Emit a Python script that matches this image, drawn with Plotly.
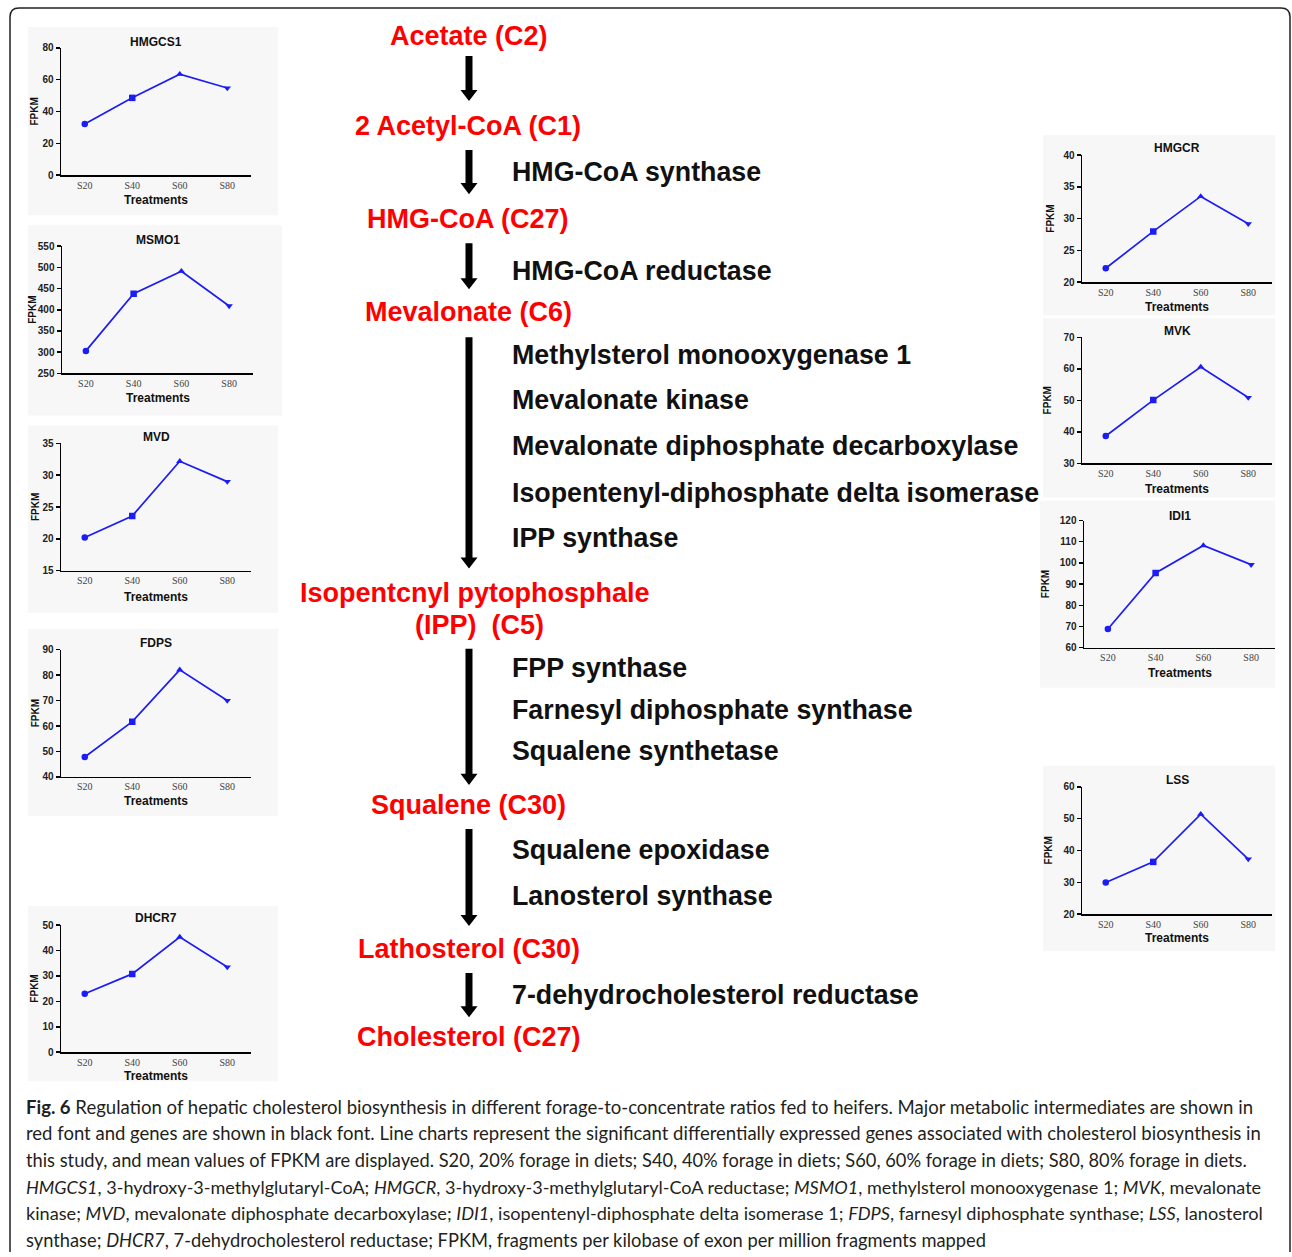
import plotly.graph_objects as go

W, H = 1292, 1257

# ---------------- data ----------------
treatments = ["S20", "S40", "S60", "S80"]
hmgcs1 = [32.2, 48.6, 63.5, 54.8]
msmo1 = [303, 438, 491, 409]
mvd = [20.2, 23.6, 32.2, 29.0]
fdps = [47.8, 61.7, 82.1, 70.0]
dhcr7 = [23.0, 30.8, 45.3, 33.5]
hmgcr = [22.2, 28.0, 33.5, 29.2]
mvk = [38.7, 50.1, 60.6, 50.9]
idi1 = [68.8, 95.3, 108.2, 99.2]
lss = [29.9, 36.4, 51.4, 37.3]

gene_names = ["HMGCS1", "MSMO1", "MVD", "FDPS", "DHCR7", "HMGCR", "MVK", "IDI1", "LSS"]
gene_values = [hmgcs1, msmo1, mvd, fdps, dhcr7, hmgcr, mvk, idi1, lss]
y_ranges = [[0, 80], [250, 550], [15, 35], [40, 90], [0, 50], [20, 40], [30, 70], [60, 120], [20, 60]]
y_dticks = [20, 50, 5, 10, 10, 5, 10, 10, 10]

metabolites = ["Acetate (C2)", "2 Acetyl-CoA (C1)", "HMG-CoA (C27)", "Mevalonate (C6)",
               "Isopentcnyl pytophosphale", "(IPP)  (C5)", "Squalene (C30)",
               "Lathosterol (C30)", "Cholesterol (C27)"]
genes = ["HMG-CoA synthase", "HMG-CoA reductase", "Methylsterol monooxygenase 1",
         "Mevalonate kinase", "Mevalonate diphosphate decarboxylase",
         "Isopentenyl-diphosphate delta isomerase", "IPP synthase", "FPP synthase",
         "Farnesyl diphosphate synthase", "Squalene synthetase", "Squalene epoxidase",
         "Lanosterol synthase", "7-dehydrocholesterol reductase"]

caption_lines = [
    "<b>Fig. 6</b> Regulation of hepatic cholesterol biosynthesis in different forage-to-concentrate ratios fed to heifers. Major metabolic intermediates are shown in",
    "red font and genes are shown in black font. Line charts represent the significant differentially expressed genes associated with cholesterol biosynthesis in",
    "this study, and mean values of FPKM are displayed. S20, 20% forage in diets; S40, 40% forage in diets; S60, 60% forage in diets; S80, 80% forage in diets.",
    "<i>HMGCS1</i>, 3-hydroxy-3-methylglutaryl-CoA; <i>HMGCR</i>, 3-hydroxy-3-methylglutaryl-CoA reductase; <i>MSMO1</i>, methylsterol monooxygenase 1; <i>MVK</i>, mevalonate",
    "kinase; <i>MVD</i>, mevalonate diphosphate decarboxylase; <i>IDI1</i>, isopentenyl-diphosphate delta isomerase 1; <i>FDPS</i>, farnesyl diphosphate synthase; <i>LSS</i>, lanosterol",
    "synthase; <i>DHCR7</i>, 7-dehydrocholesterol reductase; FPKM, fragments per kilobase of exon per million fragments mapped",
]

# ---------------- layout geometry (pixels) ----------------
# x0 (y-axis), x1 (x-axis end), yt (top), yb (bottom), title_y, treat_y, fpkm_x, panel box
geom = [
    (61, 251, 48, 175, 42, 200, 35, (28, 27, 278, 215)),
    (62, 253, 246, 373, 240, 398, 33, (28, 225, 282, 415)),
    (61, 251, 443, 570, 437, 596, 35, (28, 425, 278, 612)),
    (61, 251, 649, 776, 642, 800, 35, (28, 628, 278, 815)),
    (61, 251, 924, 1051, 917, 1075, 35, (28, 905, 278, 1080)),
    (1082, 1272, 155, 282, 148, 307, 1051, (1043, 135, 1275, 315)),
    (1082, 1272, 337, 463, 331, 488, 1047, (1043, 318, 1275, 497)),
    (1084, 1275, 520, 647, 515, 672, 1045, (1040, 500, 1275, 687)),
    (1082, 1272, 786, 913, 779, 937, 1048, (1043, 765, 1275, 950)),
]

metab_pos = [(469, 36), (468, 126), (468, 219), (469, 312), (475, 592), (479, 624),
             (469, 804), (469, 948), (469, 1036)]
gene_y = [172, 271, 355, 400, 446, 492, 537, 667, 709, 750, 849, 895, 994]
arrows = [(56, 101), (150, 194), (243, 289), (337, 568), (648, 784), (828, 925), (972, 1016)]
caption_y = [1106, 1132, 1159, 1186, 1212, 1239]
caption_sizes = [18.55, 18.5, 18.25, 18.05, 18.15, 18.3]

# vertical compensation for the page capture
VA, VB = 0.99, 6.1


def fx(x):
    return x / W


def fy(y):
    return 1 - ((y - VB) / VA) / H


BLUE = "#1c1cf5"
symbols = ["circle", "square", "triangle-up", "triangle-down"]

fig = go.Figure()
annotations = []
shapes = []

for i, (name, vals, yr, dt, g) in enumerate(zip(gene_names, gene_values, y_ranges, y_dticks, geom)):
    k = "" if i == 0 else str(i + 1)
    x0, x1, yt, yb, ty, try_, fpx, box = g
    fig.add_trace(go.Scatter(
        x=treatments, y=vals, xaxis="x" + k, yaxis="y" + k,
        mode="lines+markers", showlegend=False, hoverinfo="skip",
        line=dict(color=BLUE, width=1.7),
        marker=dict(symbol=symbols, size=6.5, color=BLUE),
    ))
    fig.layout["xaxis" + k] = dict(
        domain=[fx(x0), fx(x1)], anchor="y" + k, type="category", range=[-0.5, 3.5],
        showline=True, linecolor="black", linewidth=1.5, ticks="", showgrid=False,
        zeroline=False, fixedrange=True,
        tickfont=dict(family="Liberation Serif", size=10, color="#444444"),
    )
    fig.layout["yaxis" + k] = dict(
        domain=[fy(yb), fy(yt)], anchor="x" + k, range=yr, dtick=dt, tick0=yr[0],
        showline=True, linecolor="black", linewidth=1.5, ticks="outside", ticklen=4,
        tickwidth=1.5, tickcolor="black", showgrid=False, zeroline=False, fixedrange=True,
        tickfont=dict(family="Liberation Sans", size=10, color="#222222", weight="bold"),
    )
    bx0, by0, bx1, by1 = box
    shapes.append(dict(type="rect", xref="paper", yref="paper", layer="below",
                       x0=fx(bx0), x1=fx(bx1), y0=fy(by1), y1=fy(by0),
                       fillcolor="#f7f7f7", line=dict(width=0)))
    cx = (x0 + x1) / 2
    annotations.append(dict(text="<b>%s</b>" % name, x=fx(cx), y=fy(ty), xref="paper", yref="paper",
                            showarrow=False, xanchor="center", yanchor="middle",
                            font=dict(family="Liberation Sans", size=12, color="#111111")))
    annotations.append(dict(text="<b>Treatments</b>", x=fx(cx), y=fy(try_), xref="paper", yref="paper",
                            showarrow=False, xanchor="center", yanchor="middle",
                            font=dict(family="Liberation Sans", size=12, color="#111111")))
    annotations.append(dict(text="<b>FPKM</b>", x=fx(fpx), y=fy((yt + yb) / 2), xref="paper", yref="paper",
                            showarrow=False, xanchor="center", yanchor="middle", textangle=-90,
                            font=dict(family="Liberation Sans", size=10, color="#111111")))

# metabolites (red)
for txt, (x, y) in zip(metabolites, metab_pos):
    annotations.append(dict(text="<b>%s</b>" % txt, x=fx(x), y=fy(y), xref="paper", yref="paper",
                            showarrow=False, xanchor="center", yanchor="middle",
                            font=dict(family="Liberation Sans", size=27, color="#ff0000")))
# genes (black)
for txt, y in zip(genes, gene_y):
    annotations.append(dict(text="<b>%s</b>" % txt, x=fx(510), y=fy(y), xref="paper", yref="paper",
                            showarrow=False, xanchor="left", yanchor="middle",
                            font=dict(family="Liberation Sans", size=26.8, color="#111111")))

# arrows
ax = 469
for (t, b) in arrows:
    hl, hw, sw = 11, 8.5, 3.5
    p = [(ax - sw, t), (ax + sw, t), (ax + sw, b - hl), (ax + hw, b - hl), (ax, b),
         (ax - hw, b - hl), (ax - sw, b - hl)]
    path = "M " + " L ".join("%f,%f" % (fx(px), fy(py)) for px, py in p) + " Z"
    shapes.append(dict(type="path", xref="paper", yref="paper", path=path,
                       fillcolor="#000000", line=dict(width=0)))

# outer rounded border
r = 9
bpts = ("M %f,%f L %f,%f Q %f,%f %f,%f L %f,%f Q %f,%f %f,%f L %f,%f" % (
    fx(10), 0, fx(10), fy(8 + r), fx(10), fy(8), fx(10 + r), fy(8),
    fx(1290 - r), fy(8), fx(1290), fy(8), fx(1290), fy(8 + r), fx(1290), 0))
shapes.append(dict(type="path", xref="paper", yref="paper", path=bpts,
                   line=dict(color="#222222", width=1.5)))

# caption
for txt, y, sz in zip(caption_lines, caption_y, caption_sizes):
    annotations.append(dict(text=txt, x=fx(24), y=fy(y), xref="paper", yref="paper",
                            showarrow=False, xanchor="left", yanchor="middle",
                            font=dict(family="Lato", size=sz, color="#231f20")))

fig.update_layout(
    width=W, height=H, margin=dict(l=0, r=0, t=0, b=0),
    paper_bgcolor="white", plot_bgcolor="rgba(0,0,0,0)",
    annotations=annotations, shapes=shapes, showlegend=False, hovermode=False,
)

fig.write_html("out.html", config={"displayModeBar": False, "staticPlot": True},
               post_script="document.body.style.margin='0';document.body.style.overflow='hidden';")
